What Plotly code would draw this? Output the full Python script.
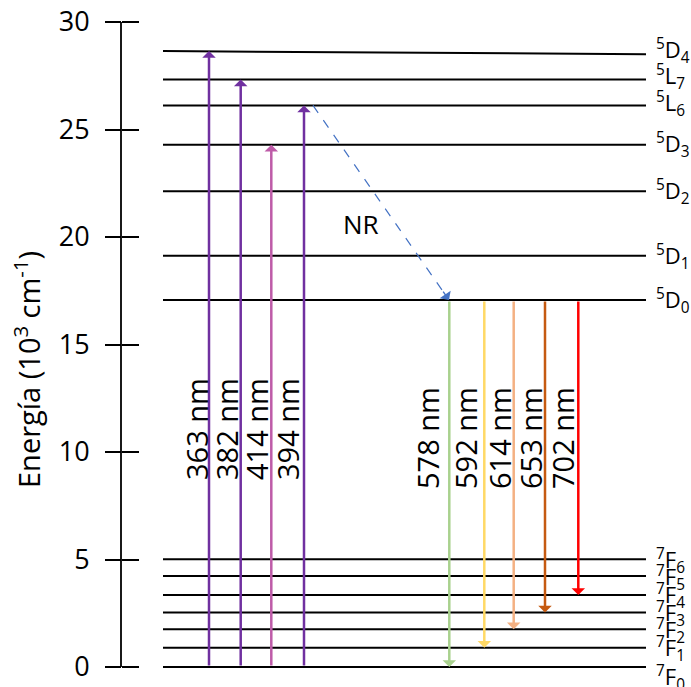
import plotly.graph_objects as go

# ---------------- data ----------------
tick_vals = [0, 5, 10, 15, 20, 25, 30]

level_keys = ["5D4", "5L7", "5L6", "5D3", "5D2", "5D1", "5D0",
              "7F6", "7F5", "7F4", "7F3", "7F2", "7F1", "7F0"]
level_names = ["<sup>5</sup>D<sub>4</sub>", "<sup>5</sup>L<sub>7</sub>", "<sup>5</sup>L<sub>6</sub>",
               "<sup>5</sup>D<sub>3</sub>", "<sup>5</sup>D<sub>2</sub>", "<sup>5</sup>D<sub>1</sub>",
               "<sup>5</sup>D<sub>0</sub>",
               "<sup>7</sup>F<sub>6</sub>", "<sup>7</sup>F<sub>5</sub>", "<sup>7</sup>F<sub>4</sub>",
               "<sup>7</sup>F<sub>3</sub>", "<sup>7</sup>F<sub>2</sub>", "<sup>7</sup>F<sub>1</sub>",
               "<sup>7</sup>F<sub>0</sub>"]
# energies in 10^3 cm-1 (left end of each level line)
level_energy = [28.65, 27.33, 26.12, 24.29, 22.13, 19.13, 17.07,
                5.01, 4.23, 3.35, 2.54, 1.75, 0.90, 0.0]
# the 5D4 line is drawn slightly tilted in the original
d4_right_energy = 28.50

exc_labels = ["363 nm", "382 nm", "414 nm", "394 nm"]
exc_from = ["7F0", "7F0", "7F0", "7F0"]
exc_to = ["5D4", "5L7", "5D3", "5L6"]

emi_labels = ["578 nm", "592 nm", "614 nm", "653 nm", "702 nm"]
emi_from = ["5D0", "5D0", "5D0", "5D0", "5D0"]
emi_to = ["7F0", "7F1", "7F2", "7F3", "7F4"]

nr_from = "5L6"
nr_to = "5D0"
nr_label = "NR"

axis_title = "Energía (10<sup>3</sup> cm<sup>-1</sup>)"

# ---------------- styles / layout positions ----------------
W, H = 691, 687
exc_colors = ["#7030A0", "#7030A0", "#BE5BA8", "#7030A0"]
emi_colors = ["#A9D18E", "#FFD966", "#F4B183", "#C55A11", "#FF0000"]
nr_color = "#4472C4"

axis_x = 121
level_x0, level_x1 = 163, 646
label_yshift = [4, 3, 2, 0, 0, -1, -1, -1, -1, -1, -1, -1, -1, -10]
exc_x = [209, 240.7, 271.3, 304]
exc_label_x = [196, 226, 256, 287]
emi_x = [449.3, 484.3, 513.7, 545, 578.3]
emi_label_x = [427, 465, 499, 530, 562]
nr_x0, nr_x1 = 313, 449
nr_text_x = 361

# y scale: 30 at pixel 22, 0 at pixel 667 (page height 687)
ppu = (667 - 22) / 30.0
ymax = 30 + 22 / ppu
ymin = -(H - 667) / ppu

E = dict(zip(level_keys, level_energy))
FONT = "Open Sans"

fig = go.Figure()

# axis line (0..30)
fig.add_trace(go.Scatter(x=[axis_x, axis_x], y=[min(tick_vals), max(tick_vals)],
                         mode="lines", line=dict(color="black", width=1.8),
                         hoverinfo="skip", showlegend=False))

# level lines
for k, e in zip(level_keys, level_energy):
    e_right = d4_right_energy if k == "5D4" else e
    fig.add_trace(go.Scatter(x=[level_x0, level_x1], y=[e, e_right], mode="lines",
                             line=dict(color="black", width=2),
                             hoverinfo="skip", showlegend=False))

# dummy trace for overlay axis
fig.add_trace(go.Scatter(x=[axis_x], y=[0], yaxis="y2", mode="markers",
                         marker=dict(opacity=0), hoverinfo="skip", showlegend=False))

annotations = []

# level labels
for k, name, e, ys in zip(level_keys, level_names, level_energy, label_yshift):
    e_lab = d4_right_energy if k == "5D4" else e
    annotations.append(dict(x=level_x1 + 8, y=e_lab, xref="x", yref="y", text=name,
                            showarrow=False, xanchor="left", yanchor="middle", yshift=ys,
                            font=dict(family=FONT, size=22, color="black")))

# arrows helper
def arrow(x, y_tail, y_tip, color, width=2.5, size=0.9):
    return dict(x=x, y=y_tip, ax=x, ay=y_tail, xref="x", yref="y", axref="x", ayref="y",
                text="", showarrow=True, arrowhead=1, arrowsize=size, arrowwidth=width,
                arrowcolor=color, standoff=0, startstandoff=0)

for lab, f, t, c, x, lx in zip(exc_labels, exc_from, exc_to, exc_colors, exc_x, exc_label_x):
    annotations.append(arrow(x, E[f], E[t], c))
    annotations.append(dict(x=lx, y=(667 - 429) / ppu, xref="x", yref="y", text=lab,
                            showarrow=False, textangle=-90, xanchor="center", yanchor="middle",
                            font=dict(family=FONT, size=29, color="black")))

for lab, f, t, c, x, lx in zip(emi_labels, emi_from, emi_to, emi_colors, emi_x, emi_label_x):
    annotations.append(arrow(x, E[f], E[t], c))
    annotations.append(dict(x=lx, y=(667 - 438) / ppu, xref="x", yref="y", text=lab,
                            showarrow=False, textangle=-90, xanchor="center", yanchor="middle",
                            font=dict(family=FONT, size=29, color="black")))

# NR dashed arrow
y0, y1 = E[nr_from], E[nr_to]
dxp, dyp = nr_x1 - nr_x0, (y0 - y1) * ppu
L = (dxp ** 2 + dyp ** 2) ** 0.5
back = 12.0
tail_x = nr_x1 - dxp / L * back
tail_y = y1 + dyp / L * back / ppu
fig.add_trace(go.Scatter(x=[nr_x0, tail_x], y=[y0, tail_y], mode="lines",
                         line=dict(color=nr_color, width=1.2, dash="dash"),
                         hoverinfo="skip", showlegend=False))
annotations.append(dict(x=nr_x1, y=y1, ax=tail_x, ay=tail_y, xref="x", yref="y",
                        axref="x", ayref="y", text="", showarrow=True, arrowhead=1,
                        arrowsize=1.6, arrowwidth=1.4, arrowcolor=nr_color, standoff=0))
annotations.append(dict(x=nr_text_x, y=(667 - 224) / ppu, xref="x", yref="y", text=nr_label,
                        showarrow=False, xanchor="center", yanchor="middle",
                        font=dict(family=FONT, size=26, color="black")))

# axis title
annotations.append(dict(x=27, y=(667 - 370) / ppu, xref="x", yref="y", text=axis_title,
                        showarrow=False, textangle=-90, xanchor="center", yanchor="middle",
                        font=dict(family=FONT, size=29, color="black")))

fig.update_layout(
    width=W, height=H,
    margin=dict(l=0, r=0, t=0, b=0),
    paper_bgcolor="white", plot_bgcolor="white",
    showlegend=False,
    xaxis=dict(range=[0, W], visible=False, domain=[0, 1], fixedrange=True),
    yaxis=dict(range=[ymin, ymax], tickvals=tick_vals, ticks="outside", ticklen=16,
               tickwidth=1.5, tickcolor="black", showline=False, showgrid=False,
               zeroline=False, anchor="free", position=axis_x / W, side="left",
               ticklabelstandoff=10,
               tickfont=dict(family=FONT, size=27, color="black"), domain=[0, 1]),
    yaxis2=dict(range=[ymin, ymax], tickvals=tick_vals, ticks="inside", ticklen=17,
                tickwidth=1.5, tickcolor="black", showline=False, showgrid=False,
                zeroline=False, anchor="free", position=axis_x / W, side="left",
                overlaying="y", showticklabels=False),
    annotations=annotations,
)

fig.write_html("out.html")
